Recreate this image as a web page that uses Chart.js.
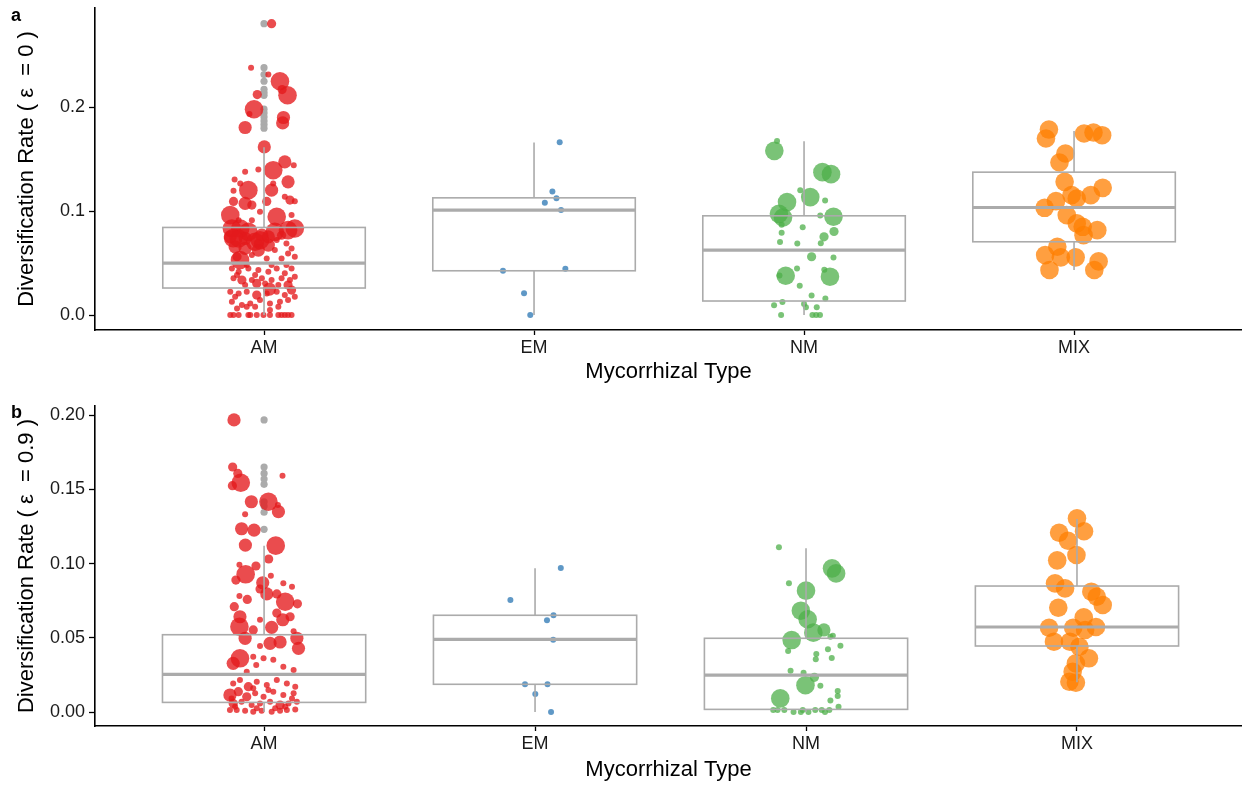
<!DOCTYPE html>
<html><head><meta charset="utf-8">
<script src="https://cdn.jsdelivr.net/npm/chart.js@4/dist/chart.umd.min.js"></script>
<style>
html,body{margin:0;padding:0;background:#fff;}
.p{position:absolute;left:0;width:1242px;height:393px;}
#pa{top:0}#pb{top:393px}
.lab{position:absolute;left:11px;font:bold 18px "Liberation Sans",Arial,sans-serif;color:#000;line-height:18px;}
</style></head><body>
<div class="p" id="pa"><canvas id="ca" width="1242" height="393"></canvas></div>
<div class="p" id="pb"><canvas id="cb" width="1242" height="393"></canvas></div>
<div class="lab" style="top:6px">a</div>
<div class="lab" style="top:403px">b</div>
<script>
const categories = ['AM','EM','NM','MIX'];
const yTicksA = [0, 0.1, 0.2];
const yTickLabelsA = ['0.0','0.1','0.2'];
const yTicksB = [0, 0.05, 0.10, 0.15, 0.20];
const yTickLabelsB = ['0.00','0.05','0.10','0.15','0.20'];

// points: [jitter offset (category units), diversification rate, size class]
const amA = [
[0.028,0.2804,2],[-0.048,0.2381,1],[0.016,0.2314,1],[0.059,0.225,4],[0.067,0.217,2],[0.087,0.2115,4],
[-0.025,0.2122,2],[-0.037,0.1981,4],[-0.054,0.1936,1],[0.072,0.1901,3],[0.069,0.1849,3],[-0.070,0.1805,3],
[0.001,0.1618,3],[0.077,0.1474,3],[0.034,0.1394,4],[0.11,0.1442,1],[-0.070,0.1378,1],[-0.021,0.1401,1],
[0.089,0.1282,3],[-0.109,0.1304,1],[-0.088,0.1266,1],[0.034,0.1266,1],[-0.058,0.1202,4],[-0.113,0.1195,1],
[0.028,0.1202,3],[0.096,0.1106,2],[0.077,0.1138,1],[0.114,0.1096,1],[-0.113,0.1093,2],[-0.070,0.1074,3],
[0.010,0.1093,2],[-0.045,0.1058,2],[-0.125,0.0962,4],[-0.015,0.0994,1],[0.047,0.0946,4],[0.102,0.0962,1],
[-0.094,0.0913,1],[-0.045,0.0913,1],[0.114,0.0833,4],
[-0.119,0.0833,4],[-0.094,0.0737,4],[-0.058,0.0801,4],[-0.033,0.0705,4],[-0.008,0.0769,3],[0.040,0.0801,4],
[0.089,0.0817,4],[-0.107,0.0657,3],[-0.070,0.0641,3],[-0.021,0.0625,3],[0.016,0.0673,3],
[0.047,0.0721,1],[0.083,0.0689,1],[0.102,0.0641,1],[0.040,0.0625,1],[-0.045,0.0577,1],[0.010,0.0545,1],
[0.065,0.0545,1],[0.114,0.0561,1],[-0.125,0.0753,3],[-0.088,0.0833,4],[-0.070,0.0737,3],[0.016,0.0753,3],
[0.065,0.0769,2],[-0.100,0.0561,2],[0.089,0.0593,1],[-0.021,0.0689,2],[-0.114,0.074,4],[-0.015,0.072,4],
[-0.089,0.053,4],
[-0.119,0.0449,1],[-0.094,0.0417,1],[-0.058,0.0449,1],[-0.021,0.0433,1],[0.016,0.0417,1],[0.047,0.0449,1],
[0.077,0.0401,1],[0.102,0.0449,1],[-0.113,0.0353,1],[-0.082,0.0337,2],[-0.045,0.0337,1],[-0.008,0.0353,1],
[0.028,0.0337,1],[0.065,0.0353,1],[0.096,0.0337,1],[-0.100,0.0385,1],[-0.033,0.0385,1],[0.114,0.0369,1],
[-0.070,0.0288,1],[0.004,0.0304,1],[0.053,0.0288,1],[-0.064,0.0481,1],[0.028,0.0481,1],[0.083,0.0481,1],
[-0.027,0.0304,2],[0.089,0.0288,2],[0.02,0.025,3],
[-0.125,0.0224,1],[-0.094,0.0208,1],[-0.064,0.0224,1],[-0.027,0.0192,2],[0.010,0.0208,1],[0.047,0.0224,1],
[0.077,0.0192,1],[-0.119,0.0128,1],[-0.082,0.0096,1],[-0.051,0.0112,1],[-0.015,0.0144,1],[0.022,0.0112,1],
[0.059,0.0128,1],[0.089,0.0144,1],[-0.100,0.0064,1],[-0.064,0.0080,1],[0.053,0.0080,1],[0.114,0.0176,1],
[0.102,0.0240,2],[-0.107,0.0176,1],[-0.033,0.0080,1],[0.022,0.0048,1],
[-0.125,0,1],[-0.113,0,1],[-0.094,0,1],[-0.058,0,1],[-0.051,0,1],[-0.027,0,1],[-0.002,0,1],[0.022,0,1],
[0.053,0,1],[0.065,0,1],[0.077,0,1],[0.089,0,1],[0.102,0,1]
];
const emA = [
[0.095,0.1663,1],[0.068,0.1189,1],[0.083,0.1125,1],[0.040,0.108,1],[0.100,0.101,1],
[-0.115,0.0426,1],[0.116,0.0445,1],[-0.037,0.0209,1],[-0.014,0.0,1]
];
const nmA = [
[-0.100,0.1676,1],[-0.110,0.158,4],[0.068,0.1375,4],[0.100,0.1356,4],[-0.014,0.1202,1],[0.023,0.1135,4],
[0.078,0.1103,1],[-0.063,0.1087,4],[-0.093,0.0974,4],[-0.078,0.0939,4],[0.109,0.0946,4],[0.060,0.0958,1],
[-0.083,0.0868,1],[-0.005,0.0846,1],[0.111,0.0804,2],[-0.083,0.0792,1],[0.074,0.0753,2],[-0.089,0.0702,1],
[-0.025,0.0689,1],[0.062,0.0692,1],[0.028,0.0561,2],[0.109,0.0554,1],[-0.068,0.0378,4],[0.096,0.0369,4],
[-0.091,0.0381,1],[-0.026,0.0449,1],[0.075,0.0436,1],[-0.016,0.0282,1],[0.028,0.0189,1],[0.079,0.016,1],
[-0.080,0.0125,1],[-0.111,0.0093,1],[0.0,0.0106,1],[0.007,0.0074,1],[0.047,0.0074,1],[-0.085,0,1],
[0.031,0,1],[0.045,0,1],[0.059,0,1]
];
const mixA = [
[-0.093,0.1785,4],[-0.104,0.1699,4],[0.037,0.1747,4],[0.072,0.1757,4],[0.104,0.1731,4],[-0.032,0.1555,4],
[-0.054,0.1468,4],[-0.035,0.1282,4],[0.106,0.1224,4],[-0.009,0.1154,4],[0.062,0.1154,4],[0.010,0.1122,4],
[-0.067,0.1096,4],[-0.109,0.1032,4],[-0.027,0.0962,4],[0.010,0.0882,4],[0.032,0.0849,4],[0.086,0.0817,4],
[0.035,0.0769,4],[-0.062,0.0657,4],[-0.107,0.0577,4],[-0.049,0.0555,4],[0.006,0.0555,4],[0.091,0.0516,4],
[-0.091,0.0433,4],[0.075,0.0433,4]
];
const outA = [0.2804,0.2381,0.2314,0.2250,0.2173,0.2141,0.2115,0.1981,0.1945,0.1907,0.1868,0.1833,0.1798];

const amB = [
[-0.111,0.1968,3],[-0.116,0.1651,2],[-0.097,0.1608,2],[-0.086,0.1545,4],[-0.117,0.1525,2],[0.068,0.1592,1],
[0.016,0.1417,4],[0.051,0.1395,1],[0.053,0.1350,3],[-0.047,0.1417,3],[-0.070,0.1332,1],[-0.083,0.1235,3],
[-0.037,0.1226,3],[-0.069,0.1125,3],[0.043,0.1121,4],[-0.091,0.0993,1],[-0.030,0.0984,2],[0.017,0.1031,2],
[-0.068,0.0928,4],[-0.104,0.0889,2],[-0.005,0.0871,3],[0.025,0.0918,1],[0.071,0.0868,1],[0.103,0.0845,1],
[-0.062,0.0759,2],[-0.015,0.0829,2],[0.010,0.0796,3],[-0.091,0.0782,1],[0.047,0.0796,2],[0.078,0.0743,4],
[0.123,0.0729,2],[-0.110,0.0710,2],[-0.089,0.0642,3],[-0.015,0.0622,1],[0.047,0.0667,2],[0.096,0.0642,2],
[0.069,0.0622,3],[-0.091,0.0575,4],[-0.040,0.0553,2],[0.028,0.0571,3],[0.109,0.0544,1],[-0.070,0.0497,3],
[0.121,0.0497,3],[0.022,0.0463,3],[0.059,0.0472,3],[0.127,0.0429,3],[-0.015,0.0445,1],[-0.089,0.0362,4],
[-0.114,0.0328,3],[-0.040,0.0373,1],[-0.002,0.0362,1],[0.034,0.0353,1],[0.071,0.0305,1],[0.109,0.0283,1],
[-0.029,0.0317,1],[-0.064,0.0272,1],
[-0.114,0.0193,1],[-0.089,0.0216,1],[-0.058,0.0171,2],[-0.027,0.0204,1],[0.010,0.0182,1],[0.047,0.0216,1],
[0.084,0.0193,1],[0.115,0.0171,1],[-0.126,0.0115,3],[-0.095,0.0137,2],[-0.064,0.0103,2],[-0.033,0.0126,1],
[-0.002,0.0103,1],[0.034,0.0137,1],[0.071,0.0115,1],[0.109,0.0126,1],[-0.114,0.0058,2],[-0.083,0.0070,1],
[-0.046,0.0047,1],[-0.015,0.0058,1],[0.022,0.0070,1],[0.059,0.0047,2],[0.090,0.0058,1],[0.121,0.0070,1],
[-0.126,0.0013,1],[-0.101,0.0013,1],[-0.070,0.0009,1],[-0.040,0.0002,1],[-0.009,0.0009,1],[0.028,0.0002,1],
[0.059,0.0009,1],[0.084,0.0013,1],[0.115,0.0018,1],[-0.107,0.0036,1],[-0.027,0.0025,1],[0.041,0.0025,1],
[0.078,0.0036,1],[-0.120,0.0092,1],[0.103,0.0092,1],[-0.040,0.0160,1],[0.016,0.0148,1]
];
const emB = [
[0.095,0.097,1],[-0.091,0.0755,1],[0.068,0.0652,1],[0.044,0.0618,1],[0.067,0.0487,1],
[-0.037,0.0187,1],[0.046,0.0187,1],[0.001,0.0121,1],[0.059,0.0,1]
];
const nmB = [
[-0.100,0.111,1],[-0.063,0.0867,1],[0.0,0.0818,4],[0.096,0.0968,4],[0.111,0.0934,4],[-0.019,0.0683,4],
[0.006,0.0625,4],[0.066,0.0553,3],[0.027,0.0535,4],[-0.053,0.0485,4],[0.090,0.0508,1],[-0.066,0.0411,1],
[0.038,0.0391,1],[0.081,0.0423,1],[0.036,0.0355,1],[0.095,0.0364,1],[0.127,0.0447,1],[-0.057,0.0278,1],
[-0.009,0.0265,1],[0.031,0.0234,2],[0.053,0.0177,1],[-0.002,0.0181,4],[0.117,0.0142,1],[0.117,0.0108,1],
[-0.095,0.0092,4],[0.090,0.0078,1],[0.120,0.0036,1],[0.099,0.0514,1],
[-0.121,0.0013,1],[-0.105,0.0013,1],[-0.080,0.0013,1],[-0.046,0.0,1],[-0.019,0.0,1],[-0.012,0.0013,1],
[0.009,0.0,1],[0.034,0.0013,1],[0.058,0.0013,1],[0.070,0.0,1],[0.086,0.0013,1]
];
const mixB = [
[0.0,0.1305,4],[-0.066,0.1208,4],[0.026,0.1218,4],[-0.033,0.1154,4],[-0.002,0.1058,4],[-0.073,0.1022,4],
[-0.081,0.0867,4],[-0.044,0.0833,4],[0.053,0.0811,4],[0.073,0.0777,4],[0.095,0.0721,4],[-0.069,0.0703,4],
[0.025,0.0638,4],[-0.103,0.0568,4],[-0.014,0.0568,4],[0.030,0.0553,4],[0.070,0.0573,4],[-0.085,0.0474,4],
[-0.026,0.0474,4],[0.009,0.0440,4],[0.044,0.0362,4],[-0.004,0.0328,4],[-0.016,0.0272,4],[-0.028,0.0204,4],
[-0.004,0.0198,4]
];
const outB = [0.1968,0.1651,0.1608,0.1570,0.1534,0.1417,0.1388,0.1346,0.1231];

// box statistics per category (AM, EM, NM, MIX)
const boxA_lo  = [0, 0, 0, 0.0433];
const boxA_q1  = [0.026, 0.0426, 0.0135, 0.0705];
const boxA_med = [0.050, 0.101, 0.0625, 0.1035];
const boxA_q3  = [0.0843, 0.1128, 0.0955, 0.1375];
const boxA_hi  = [0.1615, 0.166, 0.1673, 0.1772];
const boxB_lo  = [0, 0, 0, 0.020];
const boxB_q1  = [0.0065, 0.0187, 0.0018, 0.0445];
const boxB_med = [0.0254, 0.049, 0.0249, 0.0573];
const boxB_q3  = [0.0521, 0.0652, 0.0497, 0.0849];
const boxB_hi  = [0.112, 0.0968, 0.1103, 0.130];

const RADII = [0, 3, 4.6, 6.6, 9.3];
const COLORS = ['rgba(228,26,28,0.78)','rgba(55,126,184,0.8)','rgba(77,175,74,0.75)','rgba(255,127,0,0.75)'];
const GREY = '#ABABAB';
const FONT = '"Liberation Sans", Arial, Helvetica, sans-serif';

function pts(arr, cat){ return arr.map(p => ({x: cat + p[0], y: p[1], s: p[2]})); }

function boxPlugin(st){
  return {
    id: 'boxes',
    afterDatasetsDraw(chart){
      const {ctx, scales:{x, y}} = chart;
      ctx.save();
      ctx.strokeStyle = GREY;
      ctx.lineCap = 'butt';
      for (let i = 0; i < categories.length; i++){
        const c = i + 1;
        const xl = x.getPixelForValue(c - 0.375), xr = x.getPixelForValue(c + 0.375), xc = x.getPixelForValue(c);
        const ylo = y.getPixelForValue(st.lo[i]), yq1 = y.getPixelForValue(st.q1[i]);
        const ymd = y.getPixelForValue(st.med[i]), yq3 = y.getPixelForValue(st.q3[i]);
        const yhi = y.getPixelForValue(st.hi[i]);
        ctx.lineWidth = 1.6;
        ctx.beginPath();
        ctx.moveTo(xc, yhi); ctx.lineTo(xc, yq3);
        ctx.moveTo(xc, yq1); ctx.lineTo(xc, ylo);
        ctx.stroke();
        ctx.strokeRect(xl, yq3, xr - xl, yq1 - yq3);
        ctx.lineWidth = 3.2;
        ctx.beginPath(); ctx.moveTo(xl, ymd); ctx.lineTo(xr, ymd); ctx.stroke();
      }
      ctx.restore();
    }
  };
}

function zeroPad(s){ s.paddingTop = 0; s.paddingBottom = 0; s.paddingLeft = 0; s.paddingRight = 0; }

function makeChart(id, groups, outliers, st, yr, xr, yt, ytl, axisH, topPad, titleText, xTitlePad){
  const datasets = groups.map((g, i) => ({
    data: pts(g, i + 1),
    backgroundColor: COLORS[i],
    borderWidth: 0,
    pointRadius: ctx => RADII[ctx.raw.s],
    pointHoverRadius: ctx => RADII[ctx.raw.s]
  }));
  datasets.push({
    data: outliers.map(v => ({x: 1, y: v, s: 1})),
    backgroundColor: GREY, borderWidth: 0, pointRadius: 3.6, pointHoverRadius: 3.6
  });
  return new Chart(document.getElementById(id), {
    type: 'scatter',
    data: {datasets},
    plugins: [boxPlugin(st)],
    options: {
      responsive: false, animation: false, devicePixelRatio: 1,
      layout: {autoPadding: false, padding: {top: topPad, left: 0, right: 0, bottom: 0}},
      plugins: {legend: {display: false}, tooltip: {enabled: false}},
      scales: {
        x: {
          type: 'linear', min: xr[0], max: xr[1],
          afterBuildTicks: s => { s.ticks = categories.map((c, i) => ({value: i + 1})); },
          afterFit: s => { s.height = axisH; zeroPad(s); },
          ticks: {callback: v => categories[Math.round(v) - 1], font: {family: FONT, size: 18}, color: '#1a1a1a', padding: 2, maxRotation: 0},
          grid: {display: true, drawOnChartArea: false, drawTicks: true, tickLength: 5, tickWidth: 1.3, tickColor: '#000'},
          border: {display: true, color: '#000', width: 1.6},
          title: {display: true, text: 'Mycorrhizal Type', font: {family: FONT, size: 22}, color: '#000', padding: {top: 0, bottom: xTitlePad}}
        },
        y: {
          type: 'linear', min: yr[0], max: yr[1],
          afterBuildTicks: s => { s.ticks = yt.map(v => ({value: v})); },
          afterFit: s => { s.width = 95; zeroPad(s); },
          ticks: {callback: (v, i) => ytl[i], font: {family: FONT, size: 18}, color: '#1a1a1a', padding: 4},
          grid: {display: true, drawOnChartArea: false, drawTicks: true, tickLength: 6, tickWidth: 1.3, tickColor: '#000'},
          border: {display: true, color: '#000', width: 1.6},
          title: {display: true, text: titleText, font: {family: FONT, size: 22}, color: '#000', padding: {top: 14, bottom: 0}}
        }
      }
    }
  });
}

makeChart('ca', [amA, emA, nmA, mixA], outA,
  {lo: boxA_lo, q1: boxA_q1, med: boxA_med, q3: boxA_q3, hi: boxA_hi},
  [-0.0144, 0.2955], [0.374, 4.622], yTicksA, yTickLabelsA, 63, 8,
  'Diversification Rate ( \u03B5  = 0 )', 8);
makeChart('cb', [amB, emB, nmB, mixB], outB,
  {lo: boxB_lo, q1: boxB_q1, med: boxB_med, q3: boxB_q3, hi: boxB_hi},
  [-0.0094, 0.2062], [0.376, 4.609], yTicksB, yTickLabelsB, 60, 13,
  'Diversification Rate ( \u03B5  = 0.9 )', 3);
</script>
</body></html>
